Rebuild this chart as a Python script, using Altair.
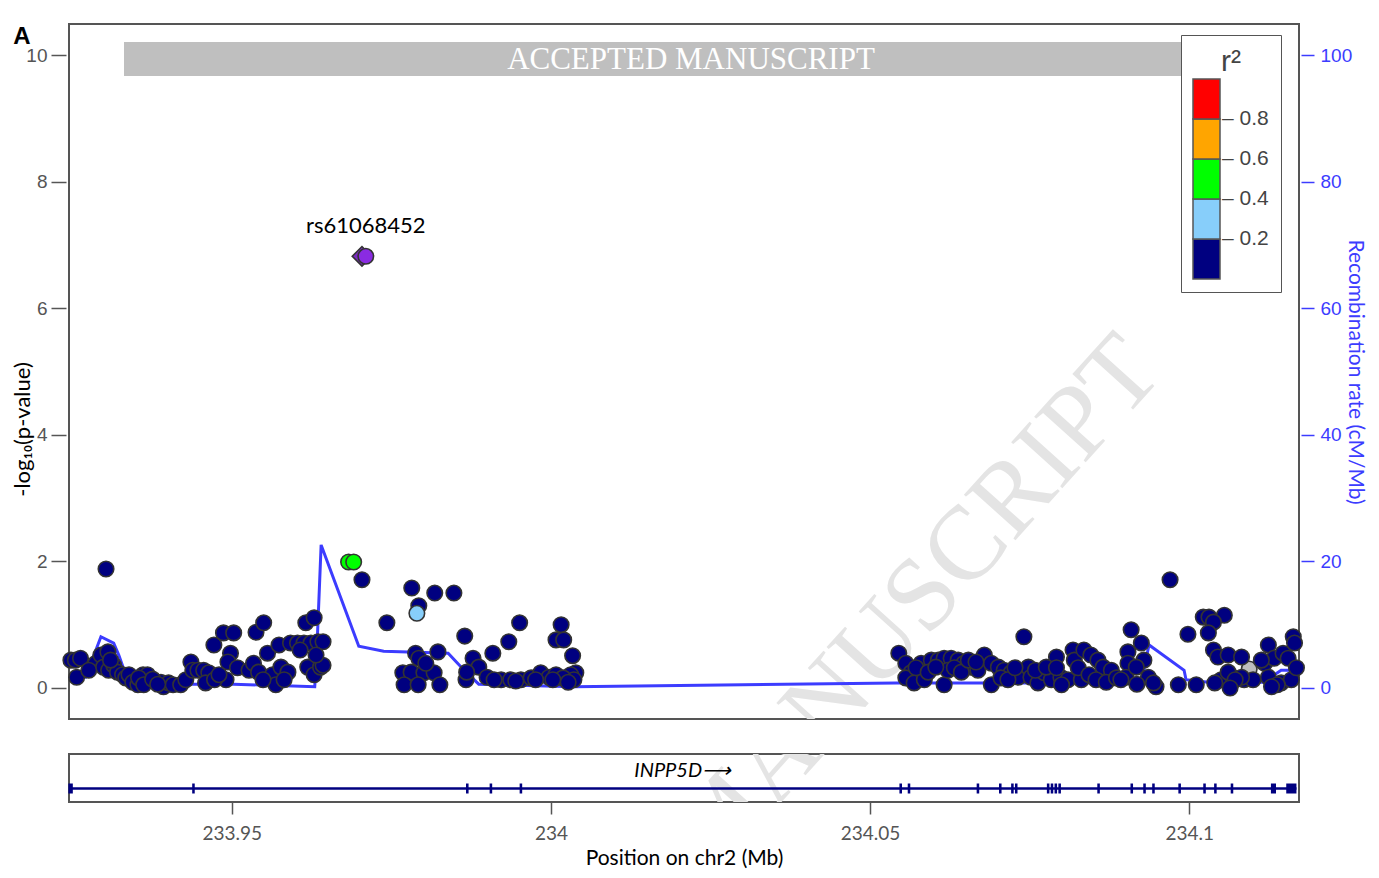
import altair as alt
import pandas as pd

# ---------------- data ----------------
# SNPs with r2 < 0.2 (navy)
navy_pos_a = [233.9248, 233.9255, 233.9263, 233.9257, 233.9303, 233.9287, 233.9295, 233.9306, 233.9299, 233.9307,
              233.9315, 233.9321, 233.9329, 233.9334, 233.9339, 233.9345, 233.9353, 233.9361, 233.9368, 233.9354,
              233.9362, 233.9389, 233.9393, 233.9401, 233.9408, 233.9420, 233.9428, 233.9436, 233.9439, 233.9376,
              233.9384, 233.9276, 233.9310]
navy_logp_a = [0.44, 0.44, 0.47, 0.17, 1.88, 0.39, 0.52, 0.57, 0.33, 0.28,
               0.36, 0.25, 0.21, 0.16, 0.21, 0.09, 0.05, 0.21, 0.21, 0.16,
               0.05, 0.09, 0.02, 0.08, 0.05, 0.05, 0.13, 0.41, 0.28, 0.14,
               0.06, 0.28, 0.44]
navy_pos_b = [233.9447, 233.9456, 233.9464, 233.9459, 233.9491, 233.9472, 233.9487, 233.9503, 233.9498, 233.9494,
              233.9509, 233.9527, 233.9534, 233.9542, 233.9538, 233.9550, 233.9556, 233.9574, 233.9564, 233.9569,
              233.9577, 233.9588, 233.9582, 233.9592, 233.9603, 233.9613, 233.9624, 233.9635, 233.9643, 233.9616,
              233.9629, 233.9619, 233.9629, 233.9639, 233.9643, 233.9607, 233.9632, 233.9549, 233.9473, 233.9480]
navy_logp_b = [0.28, 0.28, 0.24, 0.08, 0.13, 0.68, 0.87, 0.87, 0.55, 0.41,
               0.32, 0.28, 0.39, 0.25, 0.88, 1.03, 0.55, 0.68, 0.21, 0.05,
               0.33, 0.25, 0.13, 0.71, 0.71, 0.71, 0.71, 0.73, 0.73, 1.03,
               1.11, 0.33, 0.21, 0.33, 0.36, 0.60, 0.52, 0.13, 0.13, 0.21]
navy_pos_c = [233.9704, 233.9782, 233.9818, 233.9848, 233.9793, 233.9743, 233.9865, 233.9951, 233.9934, 233.9909,
              234.0016, 234.0008, 234.0020, 234.0034, 234.0039, 233.9788, 233.9793, 233.9823, 233.9768, 233.9781,
              233.9801, 233.9817, 233.9770, 233.9792, 233.9826, 233.9867, 233.9878, 233.9887, 233.9900, 233.9922,
              233.9937, 233.9953, 233.9969, 233.9984, 233.9997, 234.0008, 234.0031, 234.0036, 233.9804, 233.9868,
              233.9911, 233.9945, 233.9976, 234.0019, 234.0027, 234.0003]
navy_logp_c = [1.71, 1.58, 1.50, 1.50, 1.30, 1.03, 0.82, 1.03, 0.73, 0.55,
               1.00, 0.76, 0.76, 0.51, 0.24, 0.55, 0.47, 0.57, 0.24, 0.25,
               0.24, 0.24, 0.05, 0.05, 0.05, 0.13, 0.47, 0.33, 0.17, 0.13,
               0.13, 0.13, 0.16, 0.24, 0.17, 0.21, 0.21, 0.13, 0.39, 0.25,
               0.13, 0.11, 0.13, 0.16, 0.09, 0.13]
navy_pos_d = [234.0545, 234.0556, 234.0564, 234.0556, 234.0569, 234.0585, 234.0580, 234.0596, 234.0607, 234.0616,
              234.0627, 234.0638, 234.0647, 234.0616, 234.0622, 234.0658, 234.0669, 234.0679, 234.0690, 234.0690,
              234.0701, 234.0710, 234.0721, 234.0732, 234.0741, 234.0748, 234.0752, 234.0763, 234.0773, 234.0784,
              234.0792, 234.0799, 234.0810, 234.0818, 234.0820, 234.0831, 234.0835, 234.0572, 234.0591, 234.0603,
              234.0632, 234.0643, 234.0654, 234.0666, 234.0705, 234.0716, 234.0727, 234.0759, 234.0776, 234.0792,
              234.0800, 234.0826, 234.0843, 234.0846, 234.0857, 234.0865, 234.0878, 234.0854, 234.0870, 234.0886]
navy_logp_d = [0.55, 0.39, 0.24, 0.16, 0.08, 0.13, 0.39, 0.44, 0.44, 0.47,
               0.47, 0.44, 0.39, 0.05, 0.28, 0.33, 0.28, 0.52, 0.39, 0.05,
               0.33, 0.28, 0.24, 0.17, 0.81, 0.33, 0.17, 0.08, 0.24, 0.13,
               0.49, 0.17, 0.13, 0.60, 0.44, 0.13, 0.60, 0.32, 0.25, 0.33,
               0.32, 0.25, 0.44, 0.41, 0.16, 0.13, 0.32, 0.28, 0.33, 0.32,
               0.05, 0.32, 0.21, 0.52, 0.44, 0.33, 0.28, 0.13, 0.09, 0.16]
navy_pos_e = [234.0909, 234.0925, 234.0904, 234.0929, 234.0904, 234.0901, 234.0936, 234.0948, 234.0944, 234.0983,
              234.1011, 234.0970, 234.1022, 234.1031, 234.1055, 234.1038, 234.0998, 234.1030, 234.1038, 234.1045,
              234.1061, 234.1082, 234.1050, 234.1069, 234.1086, 234.1100, 234.1124, 234.1118, 234.1133, 234.1147,
              234.1155, 234.1163, 234.1165, 234.1124, 234.1144, 234.1160, 234.1061, 234.1082, 234.1113, 234.1072,
              234.1138, 234.1129, 234.1064, 234.1040, 234.0917, 234.0893, 234.0918, 234.1168]
navy_logp_e = [0.92, 0.71, 0.57, 0.44, 0.39, 0.17, 0.17, 0.02, 0.08, 0.05,
               0.05, 1.71, 1.12, 1.12, 1.15, 1.04, 0.85, 0.87, 0.60, 0.49,
               0.52, 0.49, 0.13, 0.16, 0.13, 0.13, 0.68, 0.39, 0.47, 0.55,
               0.47, 0.81, 0.71, 0.17, 0.08, 0.13, 0.25, 0.17, 0.44, 0.13,
               0.05, 0.02, 0.00, 0.08, 0.33, 0.13, 0.06, 0.32]

# r2 0.2-0.4 (light blue) and 0.4-0.6 (green)
lblue_pos = [233.9790]
lblue_logp = [1.18]
green_pos = [233.9683, 233.9691]
green_logp = [1.99, 1.99]
# SNP without LD information (grey)
grey_pos = [234.1094]
grey_logp = [0.30]

# index SNP
lead_name = "rs61068452"
lead_diamond_pos = [233.9704]
lead_circle_pos = [233.9710]
lead_logp = [6.82]

# recombination rate (cM/Mb)
recomb_pos = [233.9245, 233.9271, 233.9295, 233.9315, 233.9323, 233.9339, 233.9503, 233.9630, 233.9633, 233.9640,
              233.9699, 233.9738, 233.9839, 233.9864, 233.9887, 234.0036, 234.0541, 234.0831, 234.0925, 234.0937,
              234.0948, 234.0992, 234.0995, 234.1030, 234.1116, 234.1144, 234.1172]
recomb_rate = [1.7, 1.7, 8.1, 7.1, 5.2, 0.6, 0.6, 0.2, 5.2, 22.6,
               6.6, 5.8, 5.5, 2.8, 0.6, 0.2, 0.8, 0.8, 0.9, 6.8,
               6.0, 2.8, 1.3, 0.9, 0.9, 2.8, 2.8]

# gene INPP5D
gene_name = "INPP5D\u27f6"
gene_start = [233.9245]
gene_end = [234.1168]
exon_start = [233.9244, 233.9438, 233.9867, 233.9904, 233.9951, 234.0546, 234.0559, 234.0667, 234.0702, 234.0721,
              234.0727, 234.0777, 234.0783, 234.0789, 234.0795, 234.0856, 234.0908, 234.0928, 234.0942, 234.0983,
              234.1022, 234.1039, 234.1065, 234.1128, 234.1152]
exon_end = [233.9251, 233.9442, 233.9871, 233.9908, 233.9955, 234.0550, 234.0563, 234.0671, 234.0706, 234.0725,
            234.0731, 234.0781, 234.0787, 234.0793, 234.0799, 234.0860, 234.0912, 234.0932, 234.0946, 234.0987,
            234.1026, 234.1043, 234.1069, 234.1136, 234.1168]

x_ticks = [233.95, 234.0, 234.05, 234.1]
y_ticks = [0, 2, 4, 6, 8, 10]
recomb_ticks = [0, 20, 40, 60, 80, 100]
r2_breaks = [0.2, 0.4, 0.6, 0.8]
r2_colors = ["#000080", "#87CEFA", "#00FF00", "#FFA500", "#FF0000"]

# ---------------- tables ----------------
navy_pos = navy_pos_a + navy_pos_b + navy_pos_c + navy_pos_d + navy_pos_e
navy_logp = navy_logp_a + navy_logp_b + navy_logp_c + navy_logp_d + navy_logp_e
pts = pd.DataFrame({
    "pos": navy_pos + lblue_pos + green_pos,
    "logp": navy_logp + lblue_logp + green_logp,
    "r2": [0.1] * len(navy_pos) + [0.3] * len(lblue_pos) + [0.5] * len(green_pos),
})
grey_df = pd.DataFrame({"pos": grey_pos, "logp": grey_logp})
lead_d = pd.DataFrame({"pos": lead_diamond_pos, "logp": lead_logp})
lead_c = pd.DataFrame({"pos": lead_circle_pos, "logp": lead_logp, "name": [lead_name]})
rec_df = pd.DataFrame({"pos": recomb_pos, "rate": recomb_rate})
gene_df = pd.DataFrame({"start": gene_start, "end": gene_end, "name": [gene_name]})
gene_df["mid"] = (gene_df["start"] + gene_df["end"]) / 2
exon_df = pd.DataFrame({"start": exon_start, "end": exon_end})
one = pd.DataFrame({"k": [0]})

W = 1230
XDOM = [233.9245, 234.1172]
xscale = alt.Scale(domain=XDOM, nice=False, zero=False)
x_main = alt.X("pos:Q", scale=xscale, axis=None)

left_axis = alt.Axis(orient="left", values=y_ticks, title="-log\u2081\u2080(p-value)", grid=False, domain=False,
                     tickColor="#555555", tickSize=15, tickWidth=1.5, offset=3, labelPadding=4,
                     labelFont="Liberation Sans", labelFontSize=19, labelColor="#555555",
                     titleFont="Lato", titleFontSize=22, titleColor="black", titleFontWeight="normal",
                     titlePadding=-9, titleY=405)
y_main = alt.Y("logp:Q", scale=alt.Scale(domain=[-0.49, 10.49], nice=False, zero=False), axis=left_axis)

legend = alt.Legend(title="r\u00b2", type="gradient", orient="none", legendX=1112, legendY=11,
                    direction="vertical", gradientLength=200, gradientThickness=27,
                    gradientStrokeColor="#555555", gradientStrokeWidth=1.5,
                    labelFont="Liberation Sans", labelFontSize=21, labelColor="#444444", labelOffset=2,
                    format=".1f",
                    labelExpr="indexof([0.2, 0.4, 0.6, 0.8], datum.value) >= 0 ? '\u2013 ' + format(datum.value, '.1f') : ''",
                    labelOverlap=False,
                    titleFont="Liberation Sans", titleFontSize=30, titleFontWeight="normal",
                    titleColor="#444444", titleAnchor="middle", titlePadding=2,
                    padding=12, strokeColor="#555555", fillColor="white")

banner = alt.Chart(one).mark_rect(color="#BFBFBF").encode(
    x=alt.value(55), x2=alt.value(1125), y=alt.value(18), y2=alt.value(52))
banner_txt = alt.Chart(one).mark_text(text="ACCEPTED MANUSCRIPT", font="Liberation Serif", fontSize=31,
                                      color="white", align="center", baseline="middle").encode(
    x=alt.value(622), y=alt.value(36))
WM_X, WM_Y = 846, 580
wm_main = alt.Chart(one).mark_text(text="MANUSCRIPT", font="Liberation Serif", fontSize=105, angle=312,
                                   color="#E4E4E4", clip=True, align="center", baseline="middle").encode(
    x=alt.value(WM_X), y=alt.value(WM_Y))
letter = alt.Chart(one).mark_text(text="A", font="Liberation Sans", fontSize=24, fontWeight="bold",
                                  color="black", align="center", baseline="middle").encode(
    x=alt.value(-47), y=alt.value(13))

recomb = alt.Chart(rec_df).mark_line(color="#3C3CFF", strokeWidth=3).encode(
    x=x_main,
    y=alt.Y("rate:Q", scale=alt.Scale(domain=[-4.9, 104.9], nice=False, zero=False),
            axis=alt.Axis(orient="right", values=recomb_ticks, title="Recombination rate (cM/Mb)",
                          grid=False, domain=False, tickColor="#3C3CFF", tickSize=13, tickWidth=1.5,
                          offset=2, labelPadding=6, labelFont="Liberation Sans", labelFontSize=19,
                          labelColor="#3C3CFF", titleFont="Lato", titleFontSize=21,
                          titleColor="#3C3CFF", titleFontWeight="normal", titlePadding=-7)))

grey_layer = alt.Chart(grey_df).mark_circle(size=240, color="#BDBDBD", stroke="#333333", strokeWidth=1.6,
                                            opacity=1).encode(x=x_main, y=y_main)
pts_layer = alt.Chart(pts).mark_circle(size=240, stroke="#333333", strokeWidth=1.6, opacity=1).encode(
    x=x_main, y=y_main,
    color=alt.Color("r2:Q", scale=alt.Scale(type="threshold", domain=r2_breaks, range=r2_colors),
                    legend=legend))
lead_dia = alt.Chart(lead_d).mark_point(shape="diamond", filled=True, size=380, fill="#7A2AC0",
                                        stroke="#333333", strokeWidth=1.6, opacity=1).encode(x=x_main, y=y_main)
lead_cir = alt.Chart(lead_c).mark_circle(size=240, fill="#8A2BE2", stroke="#333333", strokeWidth=1.6,
                                         opacity=1).encode(x=x_main, y=y_main)
lead_lab = alt.Chart(lead_c).mark_text(font="Lato", fontSize=22, color="black", dy=-30, dx=0,
                                       align="center", baseline="middle").encode(
    x=x_main, y=y_main, text="name:N")

snps = alt.layer(grey_layer, pts_layer, lead_dia, lead_cir, lead_lab)

main = alt.layer(banner, banner_txt, wm_main, recomb, snps, letter).resolve_scale(
    y="independent").properties(width=W, height=695)

# ---------------- gene panel ----------------
gene_axis = alt.Axis(values=x_ticks, format=".2~f", grid=False, domain=False, tickColor="#555555",
                     tickSize=12, tickWidth=1.5, labelFont="Lato", labelFontSize=19,
                     labelColor="#555555", labelPadding=10, title="Position on chr2 (Mb)",
                     titleFont="Lato", titleFontSize=21, titleColor="black",
                     titleFontWeight="normal", titlePadding=4)
gene_line = alt.Chart(gene_df).mark_rule(color="#000080", strokeWidth=2.5).encode(
    x=alt.X("start:Q", scale=xscale, axis=gene_axis), x2="end:Q", y=alt.value(34.5))
exons = alt.Chart(exon_df).mark_rect(color="#000080").encode(
    x=alt.X("start:Q", scale=xscale, axis=gene_axis), x2="end:Q", y=alt.value(29.5), y2=alt.value(39.5))
gene_lab = alt.Chart(gene_df).mark_text(font="Lato", fontStyle="italic", fontSize=20, color="black",
                                        align="center", baseline="middle").encode(
    x=alt.X("mid:Q", scale=xscale, axis=gene_axis), y=alt.value(17), text="name:N")
wm_gene = alt.Chart(one).mark_text(text="MANUSCRIPT", font="Liberation Serif", fontSize=105, angle=312,
                                   color="#E4E4E4", clip=True, align="center", baseline="middle").encode(
    x=alt.value(WM_X), y=alt.value(WM_Y - 728))

gene = alt.layer(wm_gene, gene_line, exons, gene_lab).properties(width=W, height=48)

chart = alt.vconcat(main, gene, spacing=33).properties(
    padding={"left": 2, "top": 15, "right": 3, "bottom": 0}
).configure_view(stroke="#555555", strokeWidth=2)

chart.save("out.html", embed_options={"renderer": "svg", "actions": False})
